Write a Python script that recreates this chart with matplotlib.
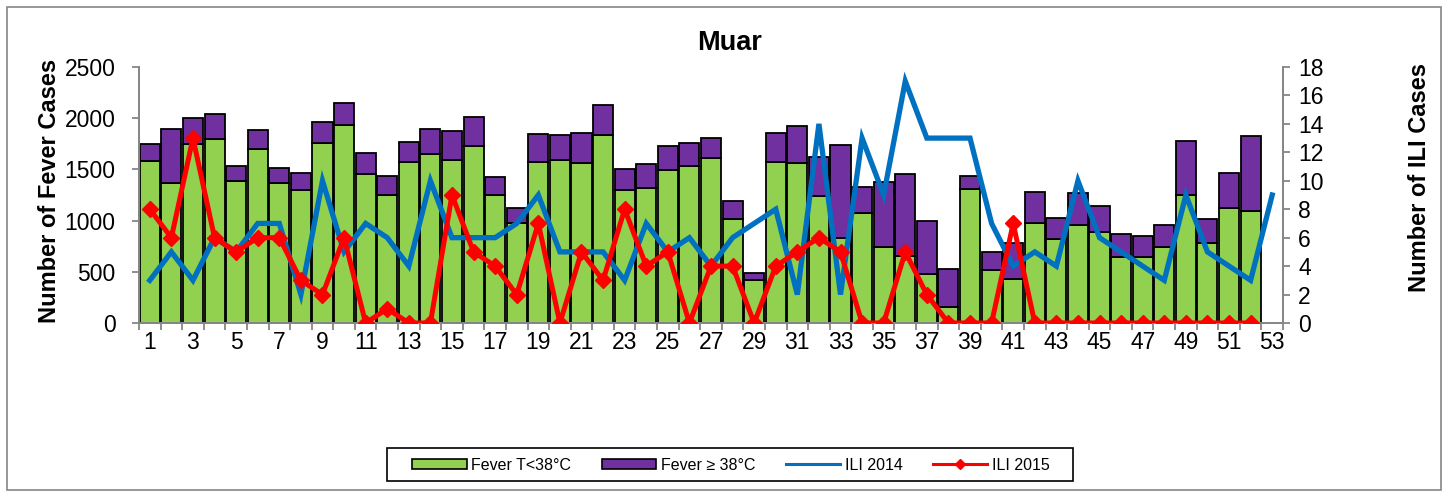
import matplotlib
matplotlib.use("Agg")
import matplotlib.pyplot as plt
from matplotlib.patches import Patch, Rectangle
from matplotlib.lines import Line2D
import numpy as np

plt.rcParams['font.family'] = ['Liberation Sans', 'DejaVu Sans']

weeks = list(range(1, 53))
fever_low = [1580, 1365, 1750, 1800, 1390, 1695, 1365, 1300, 1760, 1935,
             1455, 1250, 1570, 1650, 1590, 1730, 1250, 975, 1570, 1590,
             1560, 1840, 1300, 1320, 1490, 1535, 1610, 1015, 420, 1570,
             1565, 1240, 830, 1070, 745, 650, 480, 160, 1310, 515,
             430, 980, 820, 955, 885, 640, 645, 745, 1250, 780,
             1125, 1090]
fever_high = [170, 525, 250, 240, 140, 185, 150, 165, 205, 210,
              210, 185, 200, 240, 285, 285, 180, 150, 275, 245,
              295, 285, 200, 235, 240, 220, 200, 175, 65, 290,
              355, 380, 910, 260, 630, 805, 520, 370, 130, 180,
              350, 295, 210, 310, 260, 230, 205, 210, 530, 235,
              340, 740]
ili_2014_weeks = list(range(1, 54))
ili_2014 = [3, 5, 3, 6, 5, 7, 7, 2, 10, 5,
            7, 6, 4, 10, 6, 6, 6, 7, 9, 5,
            5, 5, 3, 7, 5, 6, 4, 6, 7, 8,
            2, 14, 2, 13, 9, 17, 13, 13, 13, 7,
            4, 5, 4, 10, 6, 5, 4, 3, 9, 5,
            4, 3, 9]
ili_2015 = [8, 6, 13, 6, 5, 6, 6, 3, 2, 6,
            0, 1, 0, 0, 9, 5, 4, 2, 7, 0,
            5, 3, 8, 4, 5, 0, 4, 4, 0, 4,
            5, 6, 5, 0, 0, 5, 2, 0, 0, 0,
            7, 0, 0, 0, 0, 0, 0, 0, 0, 0,
            0, 0]
xtick_labels = [str(i) for i in range(1, 54, 2)]

GREEN = '#92D050'
PURPLE = '#7030A0'
BLUE = '#0070C0'
RED = '#FF0000'
GRAY = '#868686'

W, H = 1448, 497
fig = plt.figure(figsize=(W / 100, H / 100), dpi=100)
L, R, T, B = 139, 1283, 67, 323
ax1 = fig.add_axes([L / W, 1 - B / H, (R - L) / W, (B - T) / H])
ax2 = ax1.twinx()

ax1.bar(weeks, fever_low, width=0.93, color=GREEN, edgecolor='black', linewidth=1.3, zorder=2)
ax1.bar(weeks, fever_high, width=0.93, bottom=fever_low, color=PURPLE, edgecolor='black', linewidth=1.3, zorder=2)

ax2.plot(ili_2014_weeks, ili_2014, color=BLUE, linewidth=3.8, solid_joinstyle='miter', zorder=3)
ax2.plot(weeks, ili_2015, color=RED, linewidth=3.6, marker='D', markersize=8.5, zorder=4)

ax1.set_xlim(0.5, 53.5)
ax1.set_ylim(0, 2500)
ax2.set_ylim(0, 18)
ax1.set_yticks(range(0, 2501, 500))
ax2.set_yticks(range(0, 19, 2))
ax1.set_xticks(range(1, 54, 2))
ax1.set_xticklabels(xtick_labels)
ax1.set_xticks(np.arange(0.5, 53.6, 1), minor=True)

for ax in (ax1, ax2):
    for s in ax.spines.values():
        s.set_color(GRAY)
        s.set_linewidth(1.3)
    ax.spines['top'].set_visible(False)

ax1.tick_params(axis='x', which='major', length=0, labelsize=16.5, pad=6)
ax1.tick_params(axis='x', which='minor', length=5, color=GRAY, width=1.3)
ax1.tick_params(axis='y', length=5, color=GRAY, width=1.3, labelsize=16.5, pad=12)
ax2.tick_params(axis='y', length=5, color=GRAY, width=1.3, labelsize=16.5, pad=6)

fig.text(50 / W, 1 - 191 / H, 'Number of Fever Cases', rotation=90, ha='center', va='center',
         fontsize=17, fontweight='bold')
fig.text(1420 / W, 1 - 178 / H, 'Number of ILI Cases', rotation=90, ha='center', va='center',
         fontsize=17, fontweight='bold')
fig.text(730 / W, 1 - 43 / H, 'Muar', ha='center', va='center', fontsize=19.5, fontweight='bold')

# outer chart border
fig.patches.append(Rectangle((7 / W, 1 - 490 / H), (1441 - 7) / W, (490 - 7) / H,
                             transform=fig.transFigure, fill=False, edgecolor=GRAY, linewidth=1.2))
# legend border
fig.patches.append(Rectangle((387 / W, 1 - 481 / H), (1073 - 387) / W, (481 - 448) / H,
                             transform=fig.transFigure, fill=False, edgecolor='black', linewidth=1.2))

handles = [Patch(facecolor=GREEN, edgecolor='black', linewidth=1.2),
           Patch(facecolor=PURPLE, edgecolor='black', linewidth=1.2),
           Line2D([], [], color=BLUE, linewidth=2.2),
           Line2D([], [], color=RED, linewidth=2.2, marker='D', markersize=5)]
labels = ['Fever T<38°C', 'Fever \u2265 38°C', 'ILI 2014', 'ILI 2015']
fig.legend(handles, labels, loc='center', bbox_to_anchor=(731 / W, 1 - 465 / H), ncol=4,
           frameon=False, fontsize=11.5, handlelength=3.4, handleheight=0.6,
           handletextpad=0.3, columnspacing=1.9)

fig.savefig('out.png', dpi=100)
